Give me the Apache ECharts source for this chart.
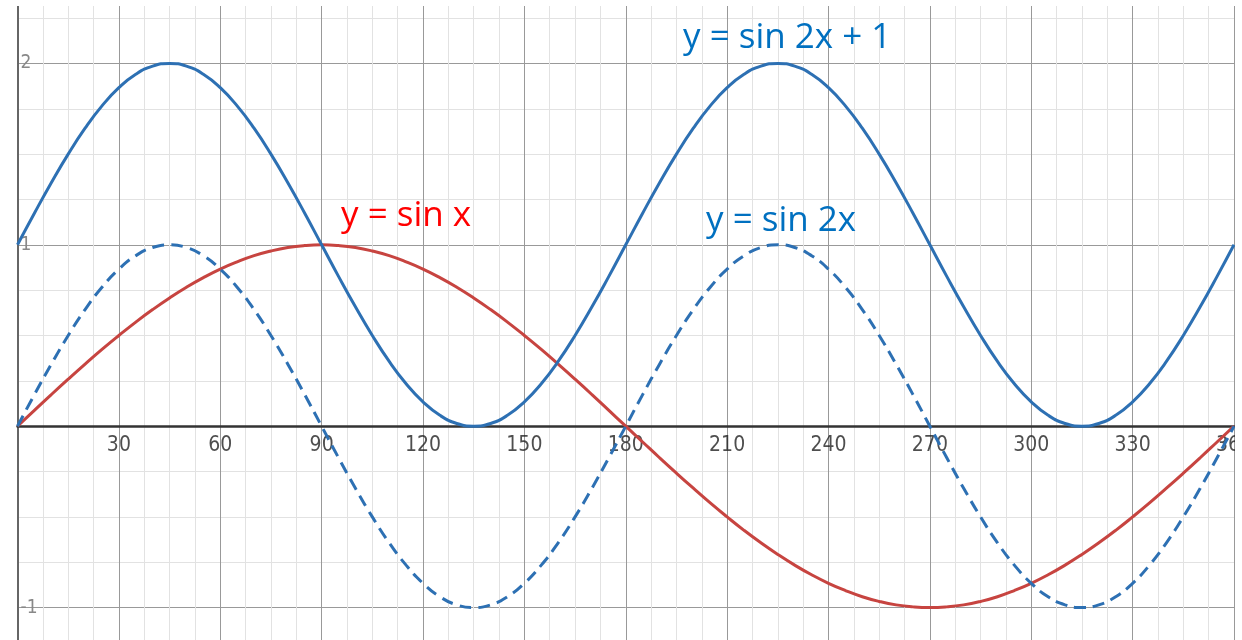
<!DOCTYPE html>
<html>
<head>
<meta charset="utf-8">
<script src="https://cdn.jsdelivr.net/npm/echarts@6/dist/echarts.min.js"></script>
<style>
  html, body { margin: 0; padding: 0; background: #fff; }
  #chart { width: 1242px; height: 640px; }
</style>
</head>
<body>
<div id="chart"></div>
<script>
// angle in degrees, every 5
var xDeg = [0, 5, 10, 15, 20, 25, 30, 35, 40, 45, 50, 55, 60, 65, 70, 75, 80, 85, 90,
            95, 100, 105, 110, 115, 120, 125, 130, 135, 140, 145, 150, 155, 160, 165, 170, 175, 180,
            185, 190, 195, 200, 205, 210, 215, 220, 225, 230, 235, 240, 245, 250, 255, 260, 265, 270,
            275, 280, 285, 290, 295, 300, 305, 310, 315, 320, 325, 330, 335, 340, 345, 350, 355, 360];
// y = sin x (red)
var sinX = [0, 0.087, 0.174, 0.259, 0.342, 0.423, 0.5, 0.574, 0.643, 0.707, 0.766, 0.819, 0.866, 0.906, 0.94, 0.966, 0.985, 0.996, 1,
            0.996, 0.985, 0.966, 0.94, 0.906, 0.866, 0.819, 0.766, 0.707, 0.643, 0.574, 0.5, 0.423, 0.342, 0.259, 0.174, 0.087, 0,
            -0.087, -0.174, -0.259, -0.342, -0.423, -0.5, -0.574, -0.643, -0.707, -0.766, -0.819, -0.866, -0.906, -0.94, -0.966, -0.985, -0.996, -1,
            -0.996, -0.985, -0.966, -0.94, -0.906, -0.866, -0.819, -0.766, -0.707, -0.643, -0.574, -0.5, -0.423, -0.342, -0.259, -0.174, -0.087, 0];
// y = sin 2x (blue dashed)
var sin2X = [0, 0.174, 0.342, 0.5, 0.643, 0.766, 0.866, 0.94, 0.985, 1, 0.985, 0.94, 0.866, 0.766, 0.643, 0.5, 0.342, 0.174, 0,
             -0.174, -0.342, -0.5, -0.643, -0.766, -0.866, -0.94, -0.985, -1, -0.985, -0.94, -0.866, -0.766, -0.643, -0.5, -0.342, -0.174, 0,
             0.174, 0.342, 0.5, 0.643, 0.766, 0.866, 0.94, 0.985, 1, 0.985, 0.94, 0.866, 0.766, 0.643, 0.5, 0.342, 0.174, 0,
             -0.174, -0.342, -0.5, -0.643, -0.766, -0.866, -0.94, -0.985, -1, -0.985, -0.94, -0.866, -0.766, -0.643, -0.5, -0.342, -0.174, 0];
// y = sin 2x + 1 (blue solid)
var sin2XPlus1 = [1, 1.174, 1.342, 1.5, 1.643, 1.766, 1.866, 1.94, 1.985, 2, 1.985, 1.94, 1.866, 1.766, 1.643, 1.5, 1.342, 1.174, 1,
                  0.826, 0.658, 0.5, 0.357, 0.234, 0.134, 0.06, 0.015, 0, 0.015, 0.06, 0.134, 0.234, 0.357, 0.5, 0.658, 0.826, 1,
                  1.174, 1.342, 1.5, 1.643, 1.766, 1.866, 1.94, 1.985, 2, 1.985, 1.94, 1.866, 1.766, 1.643, 1.5, 1.342, 1.174, 1,
                  0.826, 0.658, 0.5, 0.357, 0.234, 0.134, 0.06, 0.015, 0, 0.015, 0.06, 0.134, 0.234, 0.357, 0.5, 0.658, 0.826, 1];
// tick labels on the x axis (drawn at y = 0)
var xTickLabels = [30, 60, 90, 120, 150, 180, 210, 240, 270, 300, 330, 360];
var curveNames = ['y = sin x', 'y = sin 2x', 'y = sin 2x + 1'];

var pairs = function(ys){
    var res = [];
    for (var i = 0; i < xDeg.length; i++) {
        res.push([xDeg[i], ys[i]]);
    }
    return res;
};

var narrow = "'Liberation Sans Narrow', 'DejaVu Sans Condensed', sans-serif";
var labelFont = "35px 'Open Sans', 'Noto Sans', sans-serif";

var myChart = echarts.init(document.getElementById('chart'));
var option = {
    animation: false,
    backgroundColor: '#fff',
    grid: {
        left: 17.5,
        right: 8,
        top: -118,
        height: 907,
        containLabel: false,
        outerBoundsMode: 'none'
    },
    xAxis: {
        type: 'value',
        min: 0,
        max: 360,
        interval: 30,
        axisLine: { onZero: true, lineStyle: { color: '#333', width: 2.5 } },
        axisTick: { show: false },
        axisLabel: { show: false },
        splitLine: { show: true, lineStyle: { color: '#999', width: 1 } },
        minorTick: { show: false, splitNumber: 4 },
        minorSplitLine: { show: true, lineStyle: { color: '#e2e2e2', width: 1 } }
    },
    yAxis: {
        type: 'value',
        min: -2,
        max: 3,
        interval: 1,
        axisLine: { show: true, onZero: false, lineStyle: { color: '#666', width: 2 } },
        axisTick: { show: false },
        axisLabel: {
            inside: true,
            margin: 3,
            color: '#888',
            fontSize: 19,
            fontFamily: narrow,
            formatter: function(v){ return (v === 0 || v === 3 || v === -2) ? '' : v; }
        },
        splitLine: { show: true, lineStyle: { color: '#999', width: 1 } },
        minorTick: { show: false, splitNumber: 4 },
        minorSplitLine: { show: true, lineStyle: { color: '#e2e2e2', width: 1 } }
    },
    series: [
        {
            name: curveNames[0],
            type: 'line',
            data: pairs(sinX),
            smooth: true,
            showSymbol: false,
            lineStyle: { color: '#c74440', width: 3 },
            z: 3
        },
        {
            name: curveNames[1],
            type: 'line',
            data: pairs(sin2X),
            smooth: true,
            showSymbol: false,
            lineStyle: { color: '#2d70b3', width: 3, type: [12, 7] },
            z: 4
        },
        {
            name: curveNames[2],
            type: 'line',
            data: pairs(sin2XPlus1),
            smooth: true,
            showSymbol: false,
            lineStyle: { color: '#2d70b3', width: 3 },
            z: 5
        },
        {
            name: 'x labels',
            type: 'scatter',
            symbolSize: 0,
            silent: true,
            data: xTickLabels.map(function(v){ return [v, 0]; }),
            label: {
                show: true,
                position: 'bottom',
                distance: 9,
                color: '#222',
                fontSize: 21,
                fontFamily: narrow,
                formatter: function(p){ return p.value[0]; }
            },
            z: 2
        }
    ],
    graphic: [
        // white margins where the original picture was cropped
        { type: 'rect', left: 0, top: 0, shape: { width: 1242, height: 6 }, style: { fill: '#fff' }, z: 100 },
        { type: 'rect', left: 1235, top: 0, shape: { width: 7, height: 640 }, style: { fill: '#fff' }, z: 100 },
        { type: 'text', x: 683, y: 38, z: 101,
          style: { text: curveNames[2], font: labelFont, fill: '#0070c0', verticalAlign: 'middle' } },
        { type: 'text', x: 341, y: 216, z: 101,
          style: { text: curveNames[0], font: labelFont, fill: '#ff0000', verticalAlign: 'middle' } },
        { type: 'text', x: 706, y: 221, z: 101,
          style: { text: curveNames[1], font: labelFont, fill: '#0070c0', verticalAlign: 'middle' } }
    ]
};
myChart.setOption(option);
</script>
</body>
</html>
